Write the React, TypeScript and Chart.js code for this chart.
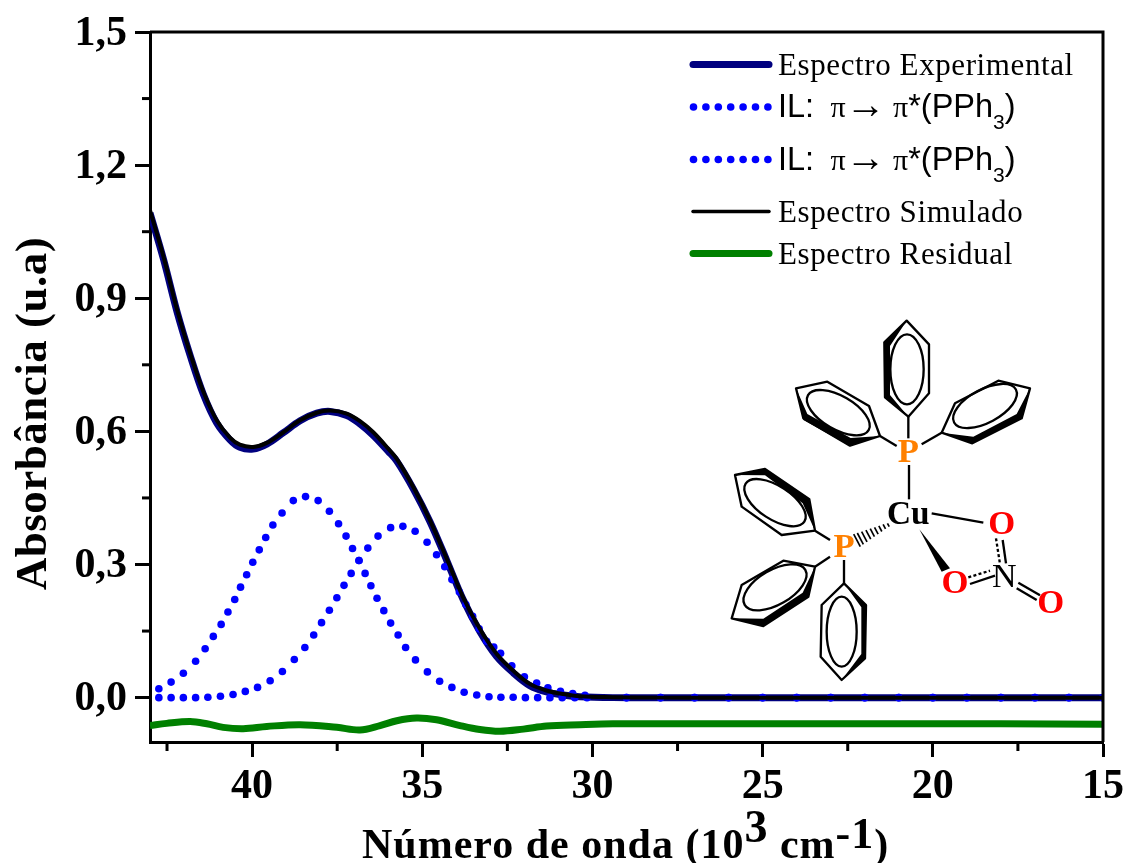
import React, { useEffect, useRef } from "react";
import { Chart, registerables } from "chart.js";

Chart.register(...registerables);

const experimentalX = [43, 42.6, 42.2, 41.82, 41.43, 41.04, 40.65, 40.36, 39.97, 39.57, 39.08, 38.59, 38.1, 37.71, 37.22, 36.83, 36.44, 36.0, 35.75, 35.26, 34.77, 34.28, 33.8, 33.31, 32.82, 32.33, 31.84, 31.35, 30.86, 30.37, 29.4, 28, 26, 24, 22, 20, 18, 16, 15];
const experimentalY = [1.092, 0.987, 0.868, 0.771, 0.683, 0.619, 0.581, 0.564, 0.560, 0.571, 0.597, 0.624, 0.641, 0.645, 0.636, 0.617, 0.591, 0.555, 0.533, 0.470, 0.396, 0.309, 0.221, 0.149, 0.093, 0.056, 0.027, 0.013, 0.006, 0.002, 0, 0, 0, 0, 0, 0, 0, 0, 0];
const simulatedY = [1.098, 0.993, 0.873, 0.776, 0.689, 0.625, 0.586, 0.570, 0.565, 0.574, 0.598, 0.625, 0.642, 0.647, 0.640, 0.623, 0.598, 0.561, 0.538, 0.474, 0.399, 0.313, 0.226, 0.155, 0.099, 0.061, 0.031, 0.016, 0.008, 0.003, 0.001, 0, 0, 0, 0, 0, 0, 0, 0];

const band1X = [42.74, 42.38, 42.02, 41.66, 41.38, 41.14, 40.91, 40.71, 40.51, 40.34, 40.16, 39.98, 39.79, 39.6, 39.39, 39.12, 38.79, 38.43, 38.06, 37.73, 37.46, 37.24, 37.05, 36.86, 36.68, 36.51, 36.33, 36.13, 35.93, 35.71, 35.49, 35.2, 34.85, 34.49, 34.13, 33.77, 33.4, 33.04, 32.69, 32.33, 31.97, 31.61, 31.25, 30.89, 30.52, 30.16, 29, 28, 27, 26, 25, 24, 23, 22, 21, 20, 19, 18, 17, 16, 15];
const band1Y = [0.02, 0.035, 0.055, 0.082, 0.11, 0.138, 0.165, 0.193, 0.221, 0.249, 0.277, 0.305, 0.333, 0.361, 0.389, 0.416, 0.444, 0.453, 0.444, 0.42, 0.392, 0.364, 0.336, 0.309, 0.28, 0.252, 0.224, 0.196, 0.168, 0.141, 0.113, 0.085, 0.058, 0.037, 0.023, 0.012, 0.006, 0.002, 0.001, 0.001, 0, 0, 0, 0, 0, 0, 0, 0, 0, 0, 0, 0, 0, 0, 0, 0, 0, 0, 0, 0, 0];

const band2X = [42.74, 42.38, 42.02, 41.66, 41.3, 40.93, 40.56, 40.2, 39.84, 39.47, 39.11, 38.76, 38.45, 38.19, 37.96, 37.73, 37.51, 37.3, 37.09, 36.86, 36.6, 36.3, 35.93, 35.57, 35.21, 34.86, 34.58, 34.34, 34.13, 33.91, 33.72, 33.52, 33.33, 33.11, 32.9, 32.7, 32.37, 32.0, 31.64, 31.31, 30.94, 30.58, 30.22, 29, 28, 27, 26, 25, 24, 23, 22, 21, 20, 19, 18, 17, 16, 15];
const band2Y = [0, 0, 0, 0, 0.001, 0.003, 0.007, 0.014, 0.023, 0.038, 0.059, 0.086, 0.113, 0.141, 0.169, 0.197, 0.225, 0.253, 0.28, 0.309, 0.337, 0.364, 0.383, 0.386, 0.375, 0.35, 0.322, 0.295, 0.266, 0.238, 0.21, 0.183, 0.155, 0.127, 0.114, 0.1, 0.072, 0.047, 0.033, 0.022, 0.014, 0.009, 0.005, 0, 0, 0, 0, 0, 0, 0, 0, 0, 0, 0, 0, 0, 0, 0];

const residualX = [43, 42.51, 41.82, 41.33, 40.85, 40.26, 39.57, 38.59, 37.51, 36.83, 36.24, 35.75, 35.17, 34.58, 33.89, 33.31, 32.72, 32.03, 31.35, 30.37, 29.4, 27, 24, 21, 18, 15];
const residualY = [-0.063, -0.058, -0.054, -0.059, -0.067, -0.07, -0.065, -0.061, -0.067, -0.073, -0.063, -0.052, -0.046, -0.05, -0.063, -0.072, -0.076, -0.071, -0.064, -0.061, -0.059, -0.059, -0.059, -0.059, -0.059, -0.06];

const xMajorTicks = [40, 35, 30, 25, 20, 15];
const xMinorTicks = [42.5, 37.5, 32.5, 27.5, 22.5, 17.5];
const yMajorTicks = [0, 0.3, 0.6, 0.9, 1.2, 1.5];
const yMinorTicks = [0.15, 0.45, 0.75, 1.05, 1.35];

const seriesLabels = ["Espectro Experimental", "IL: π→ π*(PPh3)", "IL: π→ π*(PPh3)", "Espectro Simulado", "Espectro Residual"];
const yAxisTitle = "Absorbância (u.a)";

const NAVY = "#00007f";
const BLUE = "#0000ff";
const GREEN = "#008000";
const SERIF = '"Liberation Serif"';
const SANS = '"Liberation Sans"';

const toPoints = (xs: number[], ys: number[]) => xs.map((x, i) => ({ x, y: ys[i] }));

const decorPlugin = {
  id: "decor",
  afterDraw(chart: any) {
    const { ctx, chartArea: a, scales } = chart;
    ctx.save();
    ctx.strokeStyle = "#000";
    ctx.fillStyle = "#000";
    ctx.lineWidth = 3;
    ctx.beginPath();
    ctx.moveTo(a.left, a.top);
    ctx.lineTo(a.right, a.top);
    ctx.lineTo(a.right, a.bottom);
    ctx.stroke();
    xMinorTicks.forEach((v) => {
      const p = scales.x.getPixelForValue(v);
      ctx.beginPath();
      ctx.moveTo(p, a.bottom);
      ctx.lineTo(p, a.bottom + 9);
      ctx.stroke();
    });
    yMinorTicks.forEach((v) => {
      const p = scales.y.getPixelForValue(v);
      ctx.beginPath();
      ctx.moveTo(a.left, p);
      ctx.lineTo(a.left - 8, p);
      ctx.stroke();
    });

    ctx.textBaseline = "alphabetic";
    ctx.textAlign = "left";

    // y title
    ctx.save();
    ctx.translate(46, 413.5);
    ctx.rotate(-Math.PI / 2);
    ctx.font = `bold 45px ${SERIF}`;
    (ctx as any).letterSpacing = "0.5px";
    ctx.textAlign = "center";
    ctx.fillText(yAxisTitle, 0, 0);
    ctx.restore();

    // x title with superscripts
    const runs: [string, number, number][] = [
      ["Número de onda (10", 42, 858],
      ["3", 46, 842],
      [" cm", 42, 858],
      ["-1", 44, 848],
      [")", 42, 858],
    ];
    let tx = 362;
    (ctx as any).letterSpacing = "1px";
    runs.forEach(([t, size, y]) => {
      ctx.font = `bold ${size}px ${SERIF}`;
      ctx.fillText(t, tx, y);
      tx += ctx.measureText(t).width;
    });

    // legend
    const sx0 = 691, sx1 = 771, textX = 778;
    const rows = [
      { y: 64.5, base: 75, color: NAVY, w: 7, dotted: false, label: seriesLabels[0] },
      { y: 107, base: 117, color: BLUE, w: 0, dotted: true, label: seriesLabels[1] },
      { y: 159.5, base: 170, color: BLUE, w: 0, dotted: true, label: seriesLabels[2] },
      { y: 211.5, base: 222, color: "#000", w: 3.5, dotted: false, label: seriesLabels[3] },
      { y: 253.5, base: 264, color: GREEN, w: 7, dotted: false, label: seriesLabels[4] },
    ];
    rows.forEach((r) => {
      if (r.dotted) {
        ctx.fillStyle = BLUE;
        for (let i = 0; i < 7; i++) {
          ctx.beginPath();
          ctx.arc(693.5 + i * 12.4, r.y, 3.8, 0, Math.PI * 2);
          ctx.fill();
        }
        ctx.fillStyle = "#000";
        (ctx as any).letterSpacing = "0px";
        let x = textX;
        const parts: [string, string, number][] = [
          ["IL:", `32.5px ${SANS}`, r.base],
          ["  ", `32.5px ${SERIF}`, r.base],
          ["π", `30px ${SERIF}`, r.base],
          ["→", `40px ${SERIF}`, r.base + 1],
          [" ", `30px ${SERIF}`, r.base],
          ["π", `30px ${SERIF}`, r.base],
          ["*(PPh", `32.5px ${SANS}`, r.base],
          ["3", `21px ${SANS}`, r.base + 12],
          [")", `32.5px ${SANS}`, r.base],
        ];
        parts.forEach(([t, f, y]) => {
          ctx.font = f;
          ctx.fillText(t, x, y);
          x += ctx.measureText(t).width;
        });
      } else {
        ctx.strokeStyle = r.color;
        ctx.lineWidth = r.w;
        ctx.lineCap = "round";
        ctx.beginPath();
        ctx.moveTo(sx0 + 2, r.y);
        ctx.lineTo(sx1 - 2, r.y);
        ctx.stroke();
        ctx.fillStyle = "#000";
        ctx.font = `31px ${SERIF}`;
        (ctx as any).letterSpacing = "0.6px";
        ctx.fillText(r.label, textX, r.base);
      }
    });
    (ctx as any).letterSpacing = "0px";
    ctx.restore();
  },
};

function Ring({ pts, bold, cx, cy, rx, ry, rot }: { pts: string; bold: string; cx: number; cy: number; rx: number; ry: number; rot: number }) {
  return (
    <g>
      <polygon points={bold} fill="#000" />
      <polygon points={pts} fill="none" stroke="#000" strokeWidth={7} strokeLinejoin="round" />
      <ellipse cx={cx} cy={cy} rx={rx} ry={ry} transform={`rotate(${rot} ${cx} ${cy})`} fill="none" stroke="#000" strokeWidth={7} />
    </g>
  );
}

const bonds = [
  [565, 320, 565, 385], [480, 378, 530, 408], [665, 368, 605, 403], [567, 465, 567, 568],
  [635, 610, 790, 638], [330, 690, 285, 662], [330, 740, 285, 770], [372, 750, 372, 820],
  [848, 690, 858, 760], [750, 822, 825, 797], [895, 818, 960, 856], [890, 835, 950, 870],
];
const dashedBonds = [
  [828, 685, 840, 762], [745, 802, 810, 782],
];
const hashes = [
  [505, 645, 6], [493, 650, 8], [481, 656, 10], [469, 662, 12], [457, 668, 14], [445, 674, 16], [433, 680, 18], [421, 686, 20], [411, 691, 22],
];

function Molecule() {
  const red = "#ff0000";
  const orange = "#ff8000";
  const bf = { fontFamily: SERIF, fontWeight: 700 as const, textAnchor: "middle" as const, fontSize: 104 };
  return (
    <svg viewBox="0 0 1050 1140" width={350} height={380} style={{ position: "fixed", left: 720, top: 310 }}>
      <Ring pts="560,32 627,103 627,250 565,320 495,262 493,97" bold="560,32 493,97 495,262 565,320 510,255 510,108" cx={561} cy={178} rx={50} ry={105} rot={0} />
      <Ring pts="228,235 322,215 447,288 480,378 390,407 250,325" bold="228,235 250,330 390,408 480,378 392,384 262,312" cx={355} cy={308} rx={105} ry={50} rot={30} />
      <Ring pts="930,235 835,212 705,280 665,368 757,400 905,325" bold="930,235 905,325 757,400 665,368 760,380 890,312" cx={795} cy={288} rx={105} ry={50} rot={-28} />
      <Ring pts="45,495 135,477 268,568 285,662 185,675 65,590" bold="45,495 135,477 268,568 285,662 248,580 135,496" cx={165} cy={578} rx={105} ry={50} rot={33} />
      <Ring pts="35,925 65,825 190,752 285,770 265,860 130,948" bold="285,770 265,860 130,948 35,925 130,926 248,848" cx={165} cy={832} rx={105} ry={52} rot={-30} />
      <Ring pts="372,820 438,885 435,1045 365,1110 302,1040 305,885" bold="372,820 438,885 435,1045 365,1110 424,1032 424,892" cx={365} cy={965} rx={45} ry={105} rot={0} />
      {bonds.map((b, i) => (
        <line key={i} x1={b[0]} y1={b[1]} x2={b[2]} y2={b[3]} stroke="#000" strokeWidth={7} />
      ))}
      {dashedBonds.map((b, i) => (
        <line key={i} x1={b[0]} y1={b[1]} x2={b[2]} y2={b[3]} stroke="#000" strokeWidth={7} strokeDasharray="9 7" />
      ))}
      {hashes.map((h, i) => (
        <line key={i} x1={h[0] - h[2] * 0.45} y1={h[1] - h[2] * 0.85} x2={h[0] + h[2] * 0.45} y2={h[1] + h[2] * 0.85} stroke="#000" strokeWidth={5} />
      ))}
      <polygon points="598,658 690,775 665,785" fill="#000" />
      <text x={565} y={457} fill={orange} {...bf}>P</text>
      <text x={372} y={740} fill={orange} {...bf}>P</text>
      <text x={565} y={643} fill="#000" {...bf} fontSize={100}>Cu</text>
      <text x={845} y={672} fill={red} {...bf}>O</text>
      <text x={705} y={850} fill={red} {...bf}>O</text>
      <text x={992} y={910} fill={red} {...bf}>O</text>
      <text x={853} y={830} fill="#000" fontFamily={SERIF} fontSize={102} textAnchor="middle">N</text>
    </svg>
  );
}

export default function App() {
  const ref = useRef<HTMLCanvasElement | null>(null);
  useEffect(() => {
    const chart = new Chart(ref.current as HTMLCanvasElement, {
      type: "line",
      data: {
        datasets: [
          { label: seriesLabels[3], order: 1, data: toPoints(experimentalX, simulatedY), borderColor: "#000", backgroundColor: "#000", borderWidth: 4, pointRadius: 0, tension: 0.35 },
          { label: seriesLabels[1], order: 2, data: toPoints(band1X, band1Y), borderColor: BLUE, backgroundColor: BLUE, showLine: false, pointRadius: 3.8, pointBorderWidth: 0 },
          { label: seriesLabels[2], order: 3, data: toPoints(band2X, band2Y), borderColor: BLUE, backgroundColor: BLUE, showLine: false, pointRadius: 3.8, pointBorderWidth: 0 },
          { label: seriesLabels[0], order: 4, data: toPoints(experimentalX, experimentalY), borderColor: NAVY, backgroundColor: NAVY, borderWidth: 7, pointRadius: 0, tension: 0.35 },
          { label: seriesLabels[4], order: 5, data: toPoints(residualX, residualY), borderColor: GREEN, backgroundColor: GREEN, borderWidth: 7, pointRadius: 0, tension: 0.35 },
        ],
      } as any,
      options: {
        animation: false,
        responsive: false,
        layout: { padding: { top: 32, right: 25, left: 0, bottom: 0 } },
        plugins: { legend: { display: false }, tooltip: { enabled: false } },
        scales: {
          x: {
            type: "linear",
            reverse: true,
            min: 15,
            max: 43,
            afterFit: (s: any) => { s.height = 121; s.paddingLeft = 0; s.paddingRight = 0; },
            afterBuildTicks: (s: any) => { s.ticks = xMajorTicks.map((value) => ({ value })); },
            border: { display: true, color: "#000", width: 3 },
            grid: { drawOnChartArea: false, drawTicks: true, tickLength: 15, tickWidth: 3, tickColor: "#000" },
            ticks: { autoSkip: false, maxRotation: 0, color: "#000", padding: 5, font: { family: SERIF, weight: "bold", size: 42 }, callback: (v: any) => String(v) },
          },
          y: {
            type: "linear",
            min: -0.1,
            max: 1.5,
            afterFit: (s: any) => { s.width = 150; s.paddingTop = 0; s.paddingBottom = 0; },
            afterBuildTicks: (s: any) => { s.ticks = yMajorTicks.map((value) => ({ value })); },
            border: { display: true, color: "#000", width: 3 },
            grid: { drawOnChartArea: false, drawTicks: true, tickLength: 15, tickWidth: 3, tickColor: "#000" },
            ticks: { color: "#000", padding: 8, labelOffset: 2, font: { family: SERIF, weight: "bold", size: 42 }, callback: (v: any) => Number(v).toFixed(1).replace(".", ",") },
          },
        },
      } as any,
      plugins: [decorPlugin],
    });
    return () => chart.destroy();
  }, []);
  return (
    <div>
      <canvas ref={ref} width={1128} height={863} style={{ position: "fixed", left: 0, top: 0, width: 1128, height: 863 }} />
      <Molecule />
    </div>
  );
}
